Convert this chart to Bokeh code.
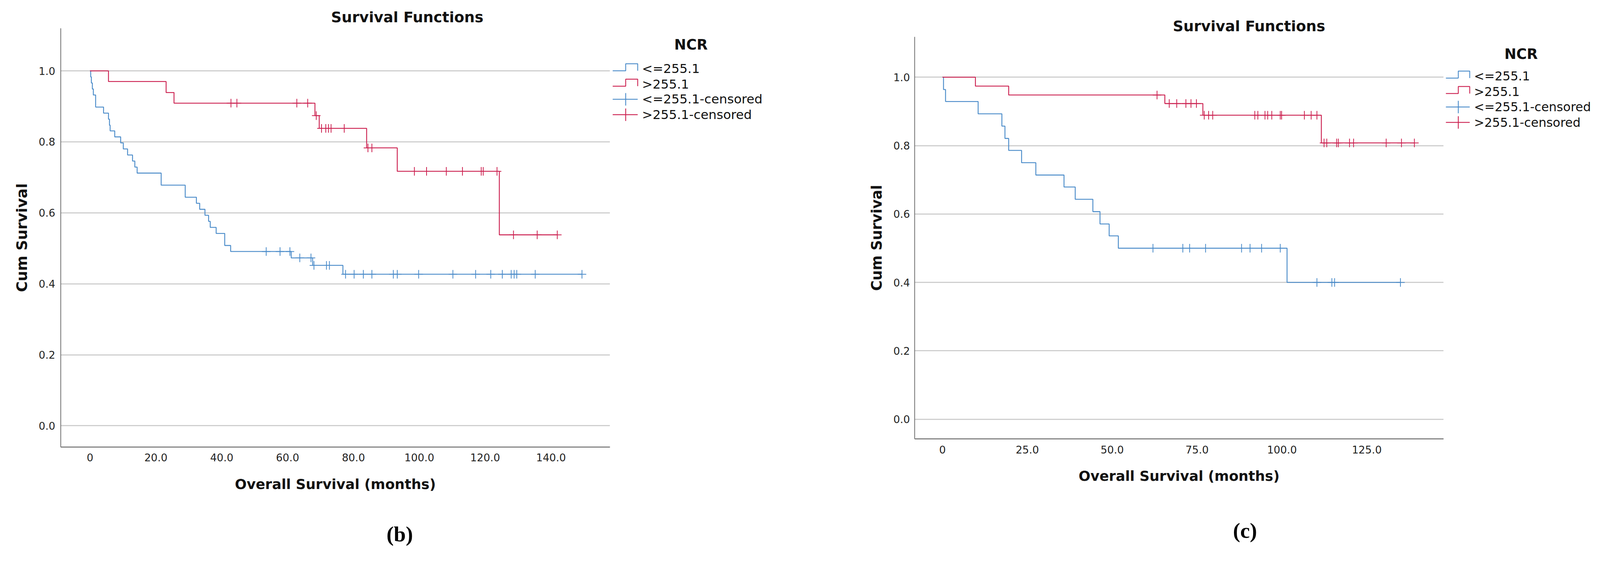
from bokeh.plotting import figure
from bokeh.models import Range1d, FixedTicker, NumeralTickFormatter, Title
from bokeh.core.properties import value
from bokeh.layouts import row
from bokeh.embed import file_html
from bokeh.resources import INLINE

# ---------------- data : panel (b) ----------------
b_low_event_t = [0.2, 0.4, 0.7, 1.0, 1.7, 4.1, 5.6, 5.9, 6.1, 7.5, 9.3, 10.1, 11.4, 12.9,
                 13.6, 14.3, 21.6, 28.9, 32.3, 33.3, 34.9, 36.0, 36.5, 38.3, 40.9, 42.7,
                 61.1, 67.6, 76.8]
b_low_event_s = [0.983, 0.966, 0.949, 0.932, 0.898, 0.881, 0.864, 0.847, 0.831, 0.814,
                 0.797, 0.780, 0.763, 0.746, 0.729, 0.712, 0.678, 0.644, 0.627, 0.610,
                 0.593, 0.576, 0.559, 0.542, 0.508, 0.491, 0.473, 0.452, 0.427]
b_low_cens_t = [53.5, 57.7, 60.7, 63.7, 67.1, 68.0, 71.8, 72.7, 77.6, 80.2, 83.0, 85.6,
                92.1, 93.3, 99.8, 110.2, 117.1, 121.7, 125.2, 127.9, 128.8, 129.6,
                135.2, 149.4]
b_high_event_t = [5.6, 23.1, 25.5, 68.3, 69.6, 84.0, 93.3, 124.3]
b_high_event_s = [0.970, 0.939, 0.909, 0.874, 0.838, 0.783, 0.717, 0.538]
b_high_cens_t = [42.8, 44.6, 62.8, 66.1, 68.7, 70.3, 71.6, 72.4, 73.2, 77.2, 84.4, 85.6,
                 98.5, 102.2, 108.2, 113.1, 118.8, 119.4, 123.6, 128.6, 135.8, 141.9]
b_xticks = [0, 20, 40, 60, 80, 100, 120, 140]
b_xtick_labels = ["0", "20.0", "40.0", "60.0", "80.0", "100.0", "120.0", "140.0"]

# ---------------- data : panel (c) ----------------
c_low_event_t = [0.3, 0.9, 10.5, 17.5, 18.4, 19.5, 23.3, 27.5, 35.8, 39.1, 44.3, 46.4,
                 49.1, 51.8, 101.5]
c_low_event_s = [0.964, 0.929, 0.893, 0.857, 0.821, 0.786, 0.750, 0.714, 0.679, 0.643,
                 0.607, 0.571, 0.536, 0.500, 0.400]
c_low_cens_t = [62.0, 70.8, 72.8, 77.5, 88.1, 90.6, 94.0, 99.5, 110.3, 114.7, 115.5, 134.9]
c_high_event_t = [9.7, 19.5, 65.5, 76.7, 111.6]
c_high_event_s = [0.974, 0.948, 0.923, 0.889, 0.808]
c_high_cens_t = [63.2, 66.8, 69.0, 71.7, 73.2, 74.8, 77.1, 78.4, 79.6, 92.0, 92.9, 95.0,
                 95.8, 97.0, 99.5, 99.9, 106.6, 108.6, 110.3, 112.4, 113.2, 116.1, 116.6,
                 119.9, 121.1, 130.7, 135.2, 139.0]
c_xticks = [0, 25, 50, 75, 100, 125]
c_xtick_labels = ["0", "25.0", "50.0", "75.0", "100.0", "125.0"]

y_ticks = [0.0, 0.2, 0.4, 0.6, 0.8, 1.0]
legend_labels = ["<=255.1", ">255.1", "<=255.1-censored", ">255.1-censored"]
legend_title = "NCR"
chart_title = "Survival Functions"
x_title = "Overall Survival (months)"
y_title = "Cum Survival"

BLUE = "#4a8bc9"
RED = "#cc2150"
GRID = "#cfcfcf"
AXIS = "#6e6e6e"
FONT = "DejaVu Sans"
SERIF = "Liberation Serif"

# layout works in page pixels; K maps reference-picture pixels to page pixels
K = 4096 / 4146
TOP_B = 64      # common top border of every figure in the row
BOT_B = 274     # common bottom border of every figure in the row


def R(v):
    return int(round(v * K))


def fs(v):
    return f"{v * K:.1f}px"


def surv_at(t, et, es):
    v = 1.0
    for ti, si in zip(et, es):
        if ti <= t:
            v = si
    return v


def build_plot(cfg):
    ox, W = cfg["ox"], cfg["W"]
    fl, ft, fr, fb = cfg["frame"]
    H = TOP_B + (fb - ft) + BOT_B
    p = figure(width=W, height=H, output_backend="svg", toolbar_location=None,
               x_range=Range1d(*cfg["xr"]), y_range=Range1d(*cfg["yr"]),
               min_border_left=fl - ox, min_border_right=ox + W - fr,
               min_border_top=TOP_B, min_border_bottom=BOT_B,
               margin=(ft - TOP_B, 0, 0, 0))
    p.outline_line_color = None
    p.background_fill_color = "white"
    p.border_fill_color = "white"
    p.xgrid.visible = False
    p.ygrid.ticker = FixedTicker(ticks=y_ticks)
    p.ygrid.grid_line_color = GRID
    p.ygrid.grid_line_width = 3

    for ax in (p.xaxis[0], p.yaxis[0]):
        ax.major_tick_out = 0
        ax.major_tick_in = 0
        ax.minor_tick_line_color = None
        ax.major_tick_line_color = None
        ax.axis_line_color = AXIS
        ax.major_label_text_font = FONT
        ax.major_label_text_font_size = fs(27)
        ax.major_label_text_color = "#222222"
        ax.axis_label_text_font = FONT
        ax.axis_label_text_font_style = "bold"
        ax.axis_label_text_color = "#111111"
    p.xaxis[0].axis_line_width = 2.5
    p.yaxis[0].axis_line_width = 2
    p.xaxis[0].ticker = FixedTicker(ticks=cfg["xticks"])
    p.xaxis[0].major_label_overrides = {t: s for t, s in zip(cfg["xticks"], cfg["xlabels"])}
    p.yaxis[0].ticker = FixedTicker(ticks=y_ticks)
    p.yaxis[0].formatter = NumeralTickFormatter(format="0.0")
    p.xaxis[0].axis_label = x_title
    p.yaxis[0].axis_label = y_title
    p.xaxis[0].axis_label_text_font_size = fs(36)
    p.yaxis[0].axis_label_text_font_size = fs(cfg["ytitle_size"])
    p.xaxis[0].major_label_standoff = cfg["x_std"]
    p.xaxis[0].axis_label_standoff = cfg["x_lab_std"]
    p.yaxis[0].major_label_standoff = cfg["y_std"]
    p.yaxis[0].axis_label_standoff = 18

    for et, es, ct, col in cfg["series"]:
        end = max(max(ct), max(et))
        xs = [0.0] + list(et) + [end]
        ys = [1.0] + list(es) + [es[-1]]
        p.step(x=xs, y=ys, mode="after", line_color=col, line_width=2.3)
        cy = [surv_at(t, et, es) for t in ct]
        p.scatter(x=ct, y=cy, marker="cross", size=22, line_color=col, line_width=2)

    p.add_layout(Title(text=chart_title, align="left", offset=cfg["title_offset"],
                       standoff=cfg["title_standoff"], text_font=FONT,
                       text_font_size=fs(38), text_font_style="bold",
                       text_color="#111111"), "above")
    # panel label: an empty first line pushes it down below the axis title
    p.add_layout(Title(text="\n" + cfg["panel_label"], align="left",
                       offset=cfg["panel_offset"], vertical_align="top", standoff=0,
                       text_line_height=cfg["panel_lh"],
                       text_font=SERIF, text_font_size=fs(56), text_font_style="bold",
                       text_color="#000000"), "below")
    return p


def build_legend(cfg):
    x0, x1 = cfg["lx"]
    ft, fb = cfg["fy"]
    H = TOP_B + (fb - ft) + BOT_B
    p = figure(width=x1 - x0, height=H, output_backend="svg", toolbar_location=None,
               x_range=Range1d(x0, x1), y_range=Range1d(fb, ft),
               x_axis_location=None, y_axis_location=None,
               min_border_left=0, min_border_right=0,
               min_border_top=TOP_B, min_border_bottom=BOT_B,
               margin=(ft - TOP_B, 0, 0, 0))
    p.outline_line_color = None
    p.background_fill_color = "white"
    p.border_fill_color = "white"
    p.grid.visible = False
    gx0, gx1 = R(cfg["glyph_x"][0]), R(cfg["glyph_x"][1])
    xm = gx0 + 0.52 * (gx1 - gx0)
    rows_y = [r * K for r in cfg["legend_rows"]]
    cols = [BLUE, RED, BLUE, RED]
    for i, (col, cy) in enumerate(zip(cols, rows_y)):
        if i < 2:
            p.line(x=[gx0, xm, xm, gx1, gx1], y=[cy + 5, cy + 5, cy - 13, cy - 13, cy + 5],
                   line_color=col, line_width=2.2)
        else:
            p.segment(x0=[gx0, xm], y0=[cy, cy - 16], x1=[gx1, xm], y1=[cy, cy + 16],
                      line_color=col, line_width=2.2)
    p.text(x=[R(cfg["legend_text_x"])] * 4, y=rows_y, text=legend_labels,
           text_font=value(FONT), text_font_size=value(fs(cfg["legend_size"])),
           text_align="left", text_baseline="middle", text_color="#111111")
    nx, ny = cfg["ncr_pos"]
    p.text(x=[nx * K], y=[ny * K], text=[legend_title], text_font=value(FONT),
           text_font_size=value(fs(37)), text_font_style="bold",
           text_align="center", text_baseline="middle", text_color="#111111")
    return p


cfg_b = dict(
    ox=0, W=1565, frame=(R(157), R(73), R(1580), R(1159)), xr=(-8.9, 157.9),
    yr=(-0.06, 1.12), xticks=b_xticks, xlabels=b_xtick_labels, ytitle_size=38,
    x_std=16, x_lab_std=35, y_std=14,
    series=[(b_low_event_t, b_low_event_s, b_low_cens_t, BLUE),
            (b_high_event_t, b_high_event_s, b_high_cens_t, RED)],
    title_offset=692, title_standoff=14, panel_offset=834, panel_label="(b)",
    panel_lh=1.22,
)
leg_b = dict(lx=(1565, 2132), fy=(R(73), R(1159)), glyph_x=(1587, 1652),
             legend_text_x=1663, legend_rows=[178, 218, 257, 297], legend_size=33,
             ncr_pos=(1790, 115))

cfg_c = dict(
    ox=2132, W=1565, frame=(R(2370), R(95), R(3740), R(1138)), xr=(-8.2, 147.6),
    yr=(-0.0575, 1.118), xticks=c_xticks, xlabels=c_xtick_labels, ytitle_size=37,
    x_std=17, x_lab_std=34, y_std=12,
    series=[(c_low_event_t, c_low_event_s, c_low_cens_t, BLUE),
            (c_high_event_t, c_high_event_s, c_high_cens_t, RED)],
    title_offset=661, title_standoff=12, panel_offset=815, panel_label="(c)",
    panel_lh=1.42,
)
leg_c = dict(lx=(3697, 4094), fy=(R(95), R(1138)), glyph_x=(3746, 3808),
             legend_text_x=3819, legend_rows=[197, 237, 277, 317], legend_size=32,
             ncr_pos=(3941, 140))

layout = row(build_plot(cfg_b), build_legend(leg_b), build_plot(cfg_c), build_legend(leg_c))
open("out.html", "w").write(file_html(layout, INLINE))
